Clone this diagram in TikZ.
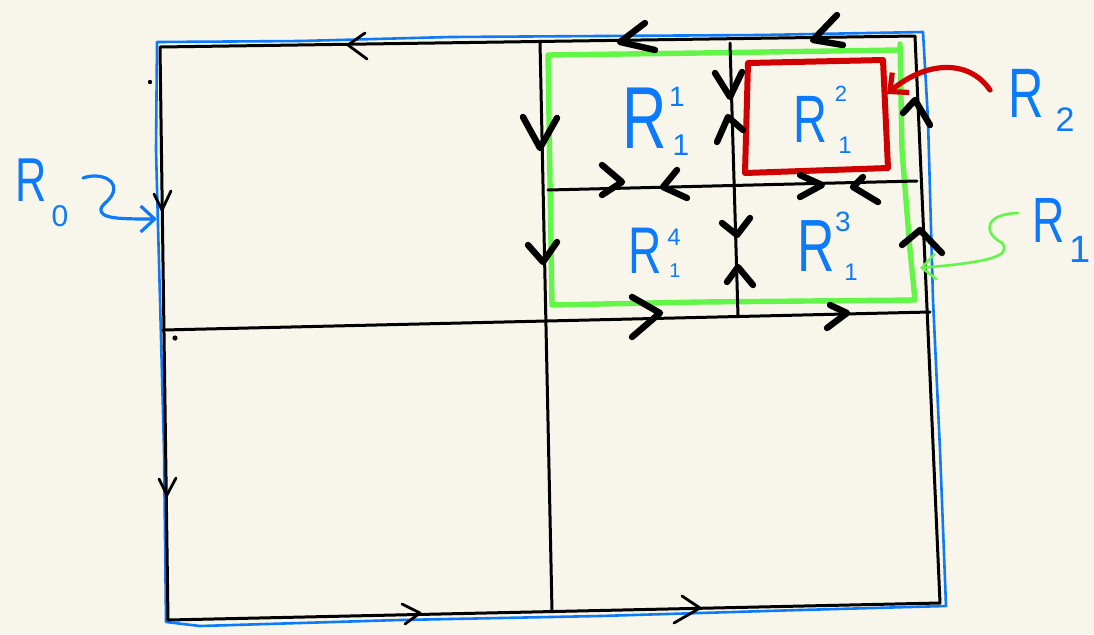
\documentclass[tikz,border=0pt]{standalone}
\usepackage{fontspec}
\setmainfont{Liberation Sans}
\usetikzlibrary{arrows.meta}
\definecolor{paper}{RGB}{248,246,234}
\definecolor{penblue}{RGB}{12,122,250}
\definecolor{pengreen}{RGB}{98,246,72}
\definecolor{penred}{RGB}{208,0,0}
\newcommand\handR[1]{\scalebox{0.7}[1]{#1}}
\begin{document}
\begin{tikzpicture}[x=0.5pt,y=-0.5pt,line cap=round,line join=round,
  gridline/.style={black,line width=1.5pt},
  frameO/.style={penblue,line width=1.3pt},
  frameI/.style={pengreen,line width=2.7pt},
  frameII/.style={penred,line width=3pt},
  thinchev/.style={black,line width=1.4pt},
  thickchev/.style={black,line width=3.2pt},
  lbl/.style={text=penblue,inner sep=0pt},
  dig/.style={text=penblue,inner sep=0pt},
  pointer/.style={-{Straight Barb[length=7pt,width=13pt]}},
]
\fill[paper] (0,0) rectangle (1094,634);
\useasboundingbox (0,0) rectangle (1094,634);

% ---- grid corners ----
\coordinate (TL) at (160,47);
\coordinate (TR) at (915,36);
\coordinate (BR) at (940,603);
\coordinate (BL) at (168,620);
\coordinate (MT) at (540,42);
\coordinate (MB) at (552,611);
\coordinate (ML) at (163,330);
\coordinate (MR) at (930,312);
\coordinate (IT) at (730,43);
\coordinate (IB) at (738,316);
\coordinate (IL) at (548,190);
\coordinate (IR) at (917,181);

% ---- colored frames ----
\draw[frameO] (157,42) -- (300,41) -- (450,37) -- (600,36) -- (760,35) -- (923,32)
  -- (928,120) -- (933,300) -- (940,450) -- (946,606) -- (800,610) -- (600,616)
  -- (400,620) -- (200,626) -- (166,622) -- (164,450) -- (160,300) -- (156,150) -- cycle;
\draw[frameI] (900,44) -- (902,150) -- (910,250) -- (915,300) -- (700,302)
  -- (552,305) -- (550,180) -- (548,55) -- (700,53) -- (898,50);
\draw[frameII] (748,63) -- (883,60) -- (888,168) -- (745,173) -- cycle;

% ---- grid ----
\draw[gridline] (TL) -- (TR) -- (BR) -- (BL) -- cycle;
\draw[gridline] (MT) -- (MB);
\draw[gridline] (ML) -- (MR);
\draw[gridline] (IT) -- (IB);
\draw[gridline] (IL) -- (IR);

% ---- thin chevrons ----
\draw[thinchev] (365,33) -- (348,45) -- (367,59);
\draw[thinchev] (154,194) -- (162,210) -- (171,191);
\draw[thinchev] (159,479) -- (167,495) -- (176,478);
\draw[thinchev] (402,604) -- (420,613) -- (405,624);
\draw[thinchev] (682,596) -- (700,608) -- (674,623);

% ---- thick chevrons ----
\draw[thickchev] (645,23) -- (620,42) -- (655,50);
\draw[thickchev] (837,15) -- (813,40) -- (843,45);
\draw[thickchev] (523,117) -- (540,148) -- (557,118);
\draw[thickchev] (528,245) -- (543,262) -- (557,242);
\draw[thickchev] (715,73) -- (730,97) -- (742,72);
\draw[thickchev] (717,142) -- (728,117) -- (743,130);
\draw[thickchev] (722,223) -- (737,235) -- (750,218);
\draw[thickchev] (727,282) -- (738,267) -- (753,285);
\draw[thickchev] (602,165) -- (622,182) -- (602,195);
\draw[thickchev] (677,170) -- (663,187) -- (687,198);
\draw[thickchev] (800,175) -- (822,185) -- (800,197);
\draw[thickchev] (863,177) -- (853,187) -- (878,202);
\draw[thickchev] (903,113) -- (915,100) -- (930,125);
\draw[thickchev] (902,245) -- (920,230) -- (942,253);
\draw[thickchev] (632,297) -- (660,313) -- (632,337);
\draw[thickchev] (830,305) -- (847,313) -- (827,328);

% ---- stray dots ----
\fill (150,82) circle (2.2);
\fill (175,338) circle (2.6);

% ---- labels ----
\node[lbl,font=\fontsize{44}{44}\selectfont] (r11) at (645,118) {\handR{R}};
\node[dig,font=\fontsize{14}{14}\selectfont] (r11sup) at (677,97) {1};
\node[dig,font=\fontsize{15}{15}\selectfont] (r11sub) at (681,145) {1};

\node[lbl,font=\fontsize{33.5}{34}\selectfont] (r12) at (810,119) {\handR{R}};
\node[dig,font=\fontsize{11}{11}\selectfont] (r12sup) at (841,94) {2};
\node[dig,font=\fontsize{12}{12}\selectfont] (r12sub) at (845,145) {1};

\node[lbl,font=\fontsize{37}{37}\selectfont] (r13) at (816,246) {\handR{R}};
\node[dig,font=\fontsize{14}{14}\selectfont] (r13sup) at (843,222) {3};
\node[dig,font=\fontsize{12}{12}\selectfont] (r13sub) at (851,272) {1};

\node[lbl,font=\fontsize{33}{33}\selectfont] (r14) at (645,251) {\handR{R}};
\node[dig,font=\fontsize{12}{12}\selectfont] (r14sup) at (674,237) {4};
\node[dig,font=\fontsize{10}{10}\selectfont] (r14sub) at (675,271) {1};

\node[lbl,font=\fontsize{31}{31}\selectfont] (r0) at (31,180) {\handR{R}};
\node[dig,font=\fontsize{15}{15}\selectfont] (r0sub) at (60,216) {0};

\node[lbl,font=\fontsize{35}{35}\selectfont] (r2) at (1026,93) {\handR{R}};
\node[dig,font=\fontsize{17}{17}\selectfont] (r2sub) at (1065,120) {2};

\node[lbl,font=\fontsize{32}{32}\selectfont] (r1) at (1049,220) {\handR{R}};
\node[dig,font=\fontsize{19}{19}\selectfont] (r1sub) at (1080,249) {1};

% ---- pointers ----
\coordinate (r0from) at (83,178);
\coordinate (r0to) at (157,219);
\draw[pointer,penblue,line width=1.6pt] (r0from) .. controls (100,172) and (120,180) .. (112,195)
  .. controls (108,203) and (96,207) .. (103,214)
  .. controls (108,219) and (130,219) .. (r0to);

\coordinate (r2from) at (990,90);
\coordinate (r2to) at (887,94);
\draw[pointer,penred,line width=2.6pt] (r2from) .. controls (968,58) and (925,62) .. (r2to);

\coordinate (r1from) at (1018,213);
\coordinate (r1to) at (920,268);
\draw[pointer,pengreen,line width=1.3pt] (r1from) .. controls (985,214) and (982,232) .. (1002,243)
  .. controls (1012,256) and (990,262) .. (r1to);
\end{tikzpicture}
\end{document}
